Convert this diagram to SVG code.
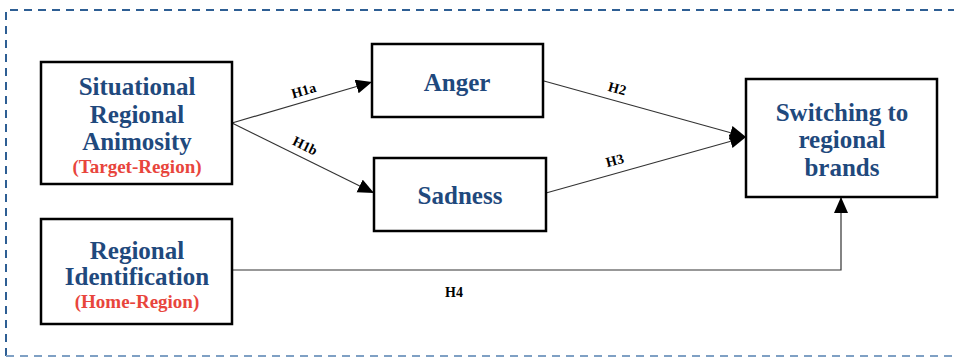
<svg xmlns="http://www.w3.org/2000/svg" width="954" height="358" viewBox="0 0 954 358">
<defs>
<marker id="arr" markerUnits="userSpaceOnUse" markerWidth="18" markerHeight="16" refX="16" refY="7" orient="auto">
<path d="M0,0 L16,7 L0,14 Z" fill="#000"/>
</marker>
<style>
.box{fill:#fff;stroke:#000;stroke-width:2.5}
.t{font-family:"Liberation Serif","DejaVu Serif",serif;font-weight:bold;font-size:25px;fill:#1f497d;text-anchor:middle}
.r{font-family:"Liberation Serif","DejaVu Serif",serif;font-weight:bold;font-size:19px;fill:#e8453c;text-anchor:middle}
.h{font-family:"Liberation Serif","DejaVu Serif",serif;font-weight:bold;font-size:14px;fill:#000;text-anchor:middle}
.c{fill:none;stroke:#333;stroke-width:1.2}
</style>
</defs>
<rect width="954" height="358" fill="#fff"/>
<path d="M6,356 V10 H954" fill="none" stroke="#2e5f94" stroke-width="2" stroke-dasharray="8,6"/>
<path d="M6,356 H954" fill="none" stroke="#7fa0c4" stroke-width="2" stroke-dasharray="8,6"/>
<g id="connectors">
<path class="c" d="M232,123 L372,82" marker-end="url(#arr)"/>
<path class="c" d="M232,123 L374,193" marker-end="url(#arr)"/>
<path class="c" d="M544,81 L746,137" marker-end="url(#arr)"/>
<path class="c" d="M546,193 L746,137" marker-end="url(#arr)"/>
<path class="c" stroke="#777" d="M232,270 H841 V197" marker-end="url(#arr)"/>
<text class="h" transform="translate(305,95) rotate(-16)">H1a</text>
<text class="h" transform="translate(303,150) rotate(26)">H1b</text>
<text class="h" transform="translate(616,93) rotate(15)">H2</text>
<text class="h" transform="translate(616,165) rotate(-15)">H3</text>
<text class="h" x="454" y="297">H4</text>
</g>
<g id="sra">
<rect class="box" x="41" y="62" width="191" height="122"/>
<text class="t" x="137" y="95">Situational</text>
<text class="t" x="137" y="123">Regional</text>
<text class="t" x="137" y="150">Animosity</text>
<text class="r" x="137" y="173">(Target-Region)</text>
</g>
<g id="ri">
<rect class="box" x="41" y="219" width="191" height="105"/>
<text class="t" x="137" y="259">Regional</text>
<text class="t" x="137" y="285">Identification</text>
<text class="r" x="137" y="308">(Home-Region)</text>
</g>
<g id="anger">
<rect class="box" x="372" y="44" width="171" height="73"/>
<text class="t" x="457" y="91">Anger</text>
</g>
<g id="sadness">
<rect class="box" x="374" y="158" width="172" height="73"/>
<text class="t" x="460" y="204">Sadness</text>
</g>
<g id="switching">
<rect class="box" x="746" y="79" width="191" height="118"/>
<text class="t" x="842" y="121">Switching to</text>
<text class="t" x="842" y="148">regional</text>
<text class="t" x="842" y="176">brands</text>
</g>
</svg>
